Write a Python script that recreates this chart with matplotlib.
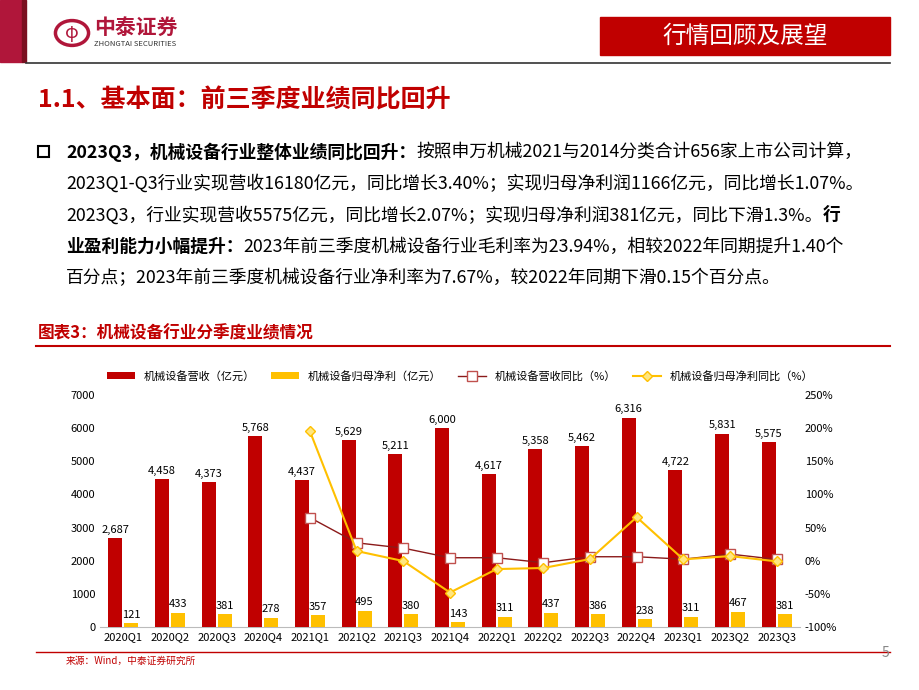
import matplotlib
matplotlib.use("Agg")
import matplotlib.pyplot as plt
from matplotlib.patches import Rectangle
import numpy as np

plt.rcParams['font.family'] = ['Noto Sans CJK SC', 'DejaVu Sans']

quarters = ["2020Q1", "2020Q2", "2020Q3", "2020Q4", "2021Q1", "2021Q2", "2021Q3", "2021Q4",
            "2022Q1", "2022Q2", "2022Q3", "2022Q4", "2023Q1", "2023Q2", "2023Q3"]
revenue = [2687, 4458, 4373, 5768, 4437, 5629, 5211, 6000, 4617, 5358, 5462, 6316, 4722, 5831, 5575]
profit = [121, 433, 381, 278, 357, 495, 380, 143, 311, 437, 386, 238, 311, 467, 381]
rev_yoy = [None] * 4 + [65, 27, 19, 4.5, 4.5, -3, 6, 6, 2.3, 10, 2]
prof_yoy = [None] * 4 + [195, 14.6, -0.5, -48, -12.6, -11, 2.5, 65.7, 2, 7, -1]

RED = "#c00000"
YEL = "#ffc000"

W, H = 920, 690
fig = plt.figure(figsize=(9.2, 6.9), dpi=100)
fig.patch.set_facecolor("white")


def fx(x):
    return x / W


def fy(y):
    return 1 - y / H


# header
fig.patches.append(Rectangle((0, fy(62)), fx(22), 62 / H, transform=fig.transFigure, color="#b0163a"))
fig.patches.append(Rectangle((fx(22), fy(62)), fx(4), 62 / H, transform=fig.transFigure, color="#7a1020"))
fig.add_artist(plt.Line2D([fx(26), fx(890)], [fy(63), fy(63)], color="#333333", lw=1.2))
fig.patches.append(Rectangle((fx(600), fy(55)), fx(290), 38 / H, transform=fig.transFigure, color=RED))
fig.text(fx(745), fy(36), "行情回顾及展望", color="white", fontsize=17, ha="center", va="center")
fig.patches.append(matplotlib.patches.Circle((fx(72), fy(33)), 0.018, transform=fig.transFigure,
                                             fill=False, ec="#b0163a", lw=2.5))
fig.text(fx(72), fy(33), "φ", color="#b0163a", fontsize=13, ha="center", va="center")
fig.text(fx(94), fy(27), "中泰证券", color="#b0163a", fontsize=15, fontweight="bold", va="center")
fig.text(fx(94), fy(44), "ZHONGTAI SECURITIES", color="#333333", fontsize=5.5, va="center")

fig.text(fx(38), fy(100), "1.1、基本面：前三季度业绩同比回升", color=RED, fontsize=18,
         fontweight="bold", va="center")

# body text with mixed bold segments
fig.patches.append(Rectangle((fx(38), fy(157)), fx(11), 11 / H, transform=fig.transFigure,
                             fill=False, ec="black", lw=1.5))
lines = [
    [("2023Q3，机械设备行业整体业绩同比回升：", True), ("按照申万机械2021与2014分类合计656家上市公司计算，", False)],
    [("2023Q1-Q3行业实现营收16180亿元，同比增长3.40%；实现归母净利润1166亿元，同比增长1.07%。", False)],
    [("2023Q3，行业实现营收5575亿元，同比增长2.07%；实现归母净利润381亿元，同比下滑1.3%。", False), ("行", True)],
    [("业盈利能力小幅提升：", True), ("2023年前三季度机械设备行业毛利率为23.94%，相较2022年同期提升1.40个", False)],
    [("百分点；2023年前三季度机械设备行业净利率为7.67%，较2022年同期下滑0.15个百分点。", False)],
]
renderer = fig.canvas.get_renderer()
for i, segs in enumerate(lines):
    x = 66
    y = 152 + i * 31.5
    for s, b in segs:
        t = fig.text(fx(x), fy(y), s, fontsize=12.8, fontweight="bold" if b else "normal",
                     va="center", color="black")
        x += t.get_window_extent(renderer).width

# chart title bar
fig.text(fx(38), fy(333), "图表3：机械设备行业分季度业绩情况", color=RED, fontsize=12,
         fontweight="bold", style="italic", va="center")
fig.add_artist(plt.Line2D([fx(36), fx(890)], [fy(346), fy(346)], color=RED, lw=1.5))
fig.add_artist(plt.Line2D([fx(36), fx(890)], [fy(652), fy(652)], color=RED, lw=1))
fig.text(fx(66), fy(661), "来源：Wind，中泰证券研究所", color=RED, fontsize=7, va="center")
fig.text(fx(885), fy(653), "5", color="#888888", fontsize=10, ha="center", va="center")

# chart
ax = fig.add_axes([fx(100), fy(627), fx(700), (627 - 395) / H])
x = np.arange(len(quarters))
ax.bar(x - 0.17, revenue, width=0.3, color=RED, label="机械设备营收（亿元）", zorder=3)
ax.bar(x + 0.17, profit, width=0.3, color=YEL, label="机械设备归母净利（亿元）", zorder=3)
for xi, v in zip(x, revenue):
    ax.text(xi - 0.17, v + 100, f"{v:,}", ha="center", va="bottom", fontsize=8)
for xi, v in zip(x, profit):
    ax.text(xi + 0.17, v + 100, f"{v:,}", ha="center", va="bottom", fontsize=8)
ax.set_ylim(0, 7000)
ax.set_yticks(range(0, 7001, 1000))
ax.set_xlim(-0.5, len(quarters) - 0.5)
ax.set_xticks(x)
ax.set_xticklabels(quarters)
ax.tick_params(labelsize=8, length=0)
for s in ["top", "right", "left"]:
    ax.spines[s].set_visible(False)
ax.spines["bottom"].set_color("#bbbbbb")

ax2 = ax.twinx()
xs = x[4:]
ax2.plot(xs, rev_yoy[4:], color="#8b1a1a", lw=1, marker="s", ms=7, mfc="white", mec="#c0504d",
         label="机械设备营收同比（%）", zorder=4)
ax2.plot(xs, prof_yoy[4:], color="#ffc000", lw=1.5, marker="D", ms=5, mfc="#ffe680", mec=YEL,
         label="机械设备归母净利同比（%）", zorder=5)
ax2.set_ylim(-100, 250)
ax2.set_yticks(range(-100, 251, 50))
ax2.set_yticklabels([f"{v}%" for v in range(-100, 251, 50)])
ax2.tick_params(labelsize=8, length=0)
for s in ["top", "right", "left", "bottom"]:
    ax2.spines[s].set_visible(False)

h1, l1 = ax.get_legend_handles_labels()
h2, l2 = ax2.get_legend_handles_labels()
fig.legend(h1 + h2, l1 + l2, loc="center", bbox_to_anchor=(fx(460), fy(376)), ncol=4,
           frameon=False, fontsize=8, handlelength=2.5, columnspacing=1.5)

fig.savefig("out.png", dpi=100)
